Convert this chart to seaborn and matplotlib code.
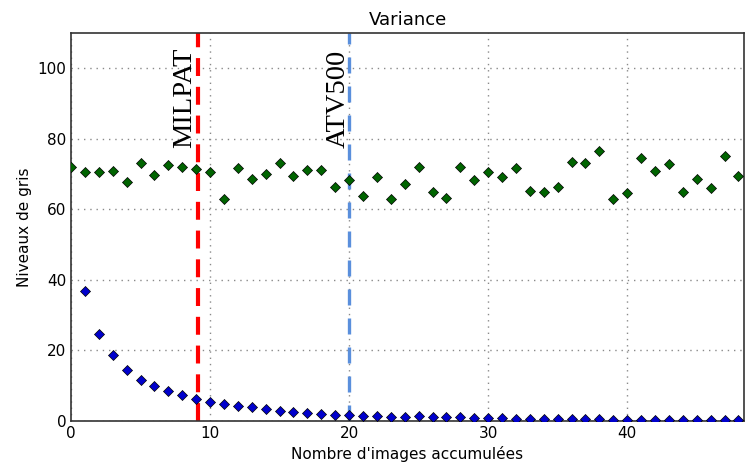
import numpy as np
import pandas as pd
import matplotlib
matplotlib.use("Agg")
import matplotlib.pyplot as plt
import seaborn as sns

# Values
n_images = list(range(0, 49))
gris_moyen = [72.1, 70.5, 70.5, 70.9, 67.8, 73.1, 69.7, 72.6, 72.1, 71.4,
              70.5, 63.0, 71.6, 68.6, 70.0, 73.1, 69.5, 71.2, 71.2, 66.4,
              68.3, 63.9, 69.2, 63.0, 67.1, 72.0, 65.0, 63.3, 72.0, 68.3,
              70.6, 69.2, 71.6, 65.3, 65.0, 66.4, 73.4, 73.1, 76.5, 63.0,
              64.5, 74.5, 70.9, 72.8, 64.8, 68.6, 66.0, 75.1, 69.4]
n_var = list(range(1, 49))
variance = [36.8, 24.6, 18.7, 14.6, 11.5, 9.9, 8.6, 7.5, 6.2, 5.4,
            4.8, 4.3, 3.9, 3.5, 2.9, 2.6, 2.4, 2.1, 1.8, 1.8,
            1.5, 1.5, 1.2, 1.2, 1.3, 1.2, 1.1, 1.0, 0.9, 0.8,
            0.8, 0.7, 0.7, 0.6, 0.6, 0.5, 0.5, 0.45, 0.4, 0.4,
            0.35, 0.3, 0.3, 0.3, 0.25, 0.25, 0.2, 0.2]
ref_x = [9.1, 20.0]
ref_labels = ["MILPAT", "ATV500"]
ref_colors = ["#ff0000", "#5a8fdc"]

sns.set_style("white")
plt.rcParams['font.family'] = ['DejaVu Sans']
plt.rcParams['text.color'] = 'black'
plt.rcParams['axes.labelcolor'] = 'black'
plt.rcParams['xtick.color'] = 'black'
plt.rcParams['ytick.color'] = 'black'

fig = plt.figure(figsize=(7.45, 4.72), dpi=100)
ax = fig.add_axes([71 / 745, 51 / 472, (744 - 71) / 745, (421 - 33) / 472])

df_g = pd.DataFrame({"n": n_images, "v": gris_moyen})
df_b = pd.DataFrame({"n": n_var, "v": variance})
sns.scatterplot(data=df_g, x="n", y="v", marker="D", color="#006400",
                edgecolor="black", linewidth=0.5, s=26, ax=ax, zorder=3)
sns.scatterplot(data=df_b, x="n", y="v", marker="D", color="#0000cc",
                edgecolor="black", linewidth=0.5, s=26, ax=ax, zorder=3)

# reference lines
ax.axvline(ref_x[0], color=ref_colors[0], lw=3, ls=(0, (4.3, 2.6)), zorder=2)
ax.axvline(ref_x[1], color=ref_colors[1], lw=2.4, ls=(0, (4.8, 3.9)), zorder=2)
for xv, lab in zip([8.2, 19.2], ref_labels):
    ax.text(xv, 77.5, lab, rotation=90, ha="center", va="bottom",
            fontsize=20.5, family="Liberation Serif")

ax.set_xlim(0, 48.4)
ax.set_ylim(0, 110)
ax.set_xticks([0, 10, 20, 30, 40])
ax.set_yticks([0, 20, 40, 60, 80, 100])
ax.grid(True, color="#8a8a8a", ls=(0, (1, 3.5)), lw=1.0)
ax.tick_params(direction="in", labelsize=11, length=5, color="black")
for sp in ax.spines.values():
    sp.set_color("#333333")
    sp.set_linewidth(1.2)
ax.set_title("Variance", fontsize=13)
ax.set_xlabel("Nombre d'images accumulées", fontsize=11)
ax.set_ylabel("Niveaux de gris", fontsize=11)

fig.savefig("out.png", dpi=100)
